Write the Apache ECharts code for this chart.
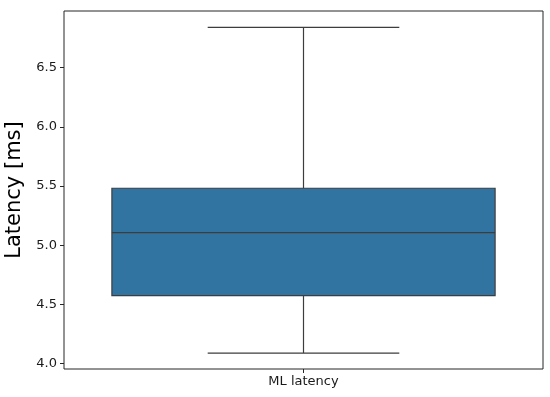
<!DOCTYPE html>
<html>
<head>
<meta charset="utf-8">
<script src="https://cdn.jsdelivr.net/npm/echarts@6/dist/echarts.min.js"></script>
<style>
  html, body { margin: 0; padding: 0; background: #fff; }
  #main { width: 550px; height: 397px; }
</style>
</head>
<body>
<div id="main"></div>
<script>
// 数据
const categories = ['ML latency'];
// [下须, Q1, 中位数, Q3, 上须]
const boxValues = [[4.088, 4.574, 5.106, 5.481, 6.841]];
const yTicks = [4.0, 4.5, 5.0, 5.5, 6.0, 6.5];

const chart = echarts.init(document.getElementById('main'), null, { renderer: 'canvas' });

const lineColor = '#3d3d3d';
const boxColor = '#3274a1';

const option = {
  animation: false,
  grid: {
    left: 64, right: 7, top: 11, bottom: 28,
    outerBoundsMode: 'none',
    show: true, borderColor: '#262626', borderWidth: 1, backgroundColor: 'transparent'
  },
  xAxis: {
    type: 'category',
    data: categories,
    axisLine: { show: false },
    axisTick: { show: true, alignWithLabel: true, length: 4, lineStyle: { color: '#262626' } },
    axisLabel: { color: '#1a1a1a', fontSize: 13, fontFamily: 'DejaVu Sans', margin: 6 },
    splitLine: { show: false }
  },
  yAxis: {
    type: 'value',
    min: 3.953,
    max: 6.979,
    name: 'Latency [ms]',
    nameLocation: 'middle',
    nameGap: 38,
    nameTextStyle: { fontSize: 21, fontFamily: 'DejaVu Sans', color: '#000' },
    axisLine: { show: false },
    axisTick: { show: true, length: 4, customValues: yTicks, lineStyle: { color: '#262626' } },
    axisLabel: {
      color: '#1a1a1a', fontSize: 13, fontFamily: 'DejaVu Sans', margin: 7,
      customValues: yTicks,
      formatter: v => v.toFixed(1)
    },
    splitLine: { show: false }
  },
  series: [{
    type: 'custom',
    data: boxValues.map((d, i) => [i].concat(d)),
    encode: { x: 0, y: [1, 2, 3, 4, 5] },
    renderItem: function (params, api) {
      const idx = api.value(0);
      const bandW = api.size([1, 0])[0];
      const half = bandW * 0.8 / 2;
      const capHalf = half / 2;
      const pLo = api.coord([idx, api.value(1)]);
      const pQ1 = api.coord([idx, api.value(2)]);
      const pMed = api.coord([idx, api.value(3)]);
      const pQ3 = api.coord([idx, api.value(4)]);
      const pHi = api.coord([idx, api.value(5)]);
      const cx = pMed[0];
      const ls = { stroke: lineColor, lineWidth: 1.2 };
      return {
        type: 'group',
        children: [
          { type: 'line', shape: { x1: cx, y1: pQ3[1], x2: cx, y2: pHi[1] }, style: ls },
          { type: 'line', shape: { x1: cx, y1: pQ1[1], x2: cx, y2: pLo[1] }, style: ls },
          { type: 'line', shape: { x1: cx - capHalf, y1: pHi[1], x2: cx + capHalf, y2: pHi[1] }, style: ls },
          { type: 'line', shape: { x1: cx - capHalf, y1: pLo[1], x2: cx + capHalf, y2: pLo[1] }, style: ls },
          {
            type: 'rect',
            shape: { x: cx - half, y: pQ3[1], width: half * 2, height: pQ1[1] - pQ3[1] },
            style: { fill: boxColor, stroke: lineColor, lineWidth: 1.2 }
          },
          { type: 'line', shape: { x1: cx - half, y1: pMed[1], x2: cx + half, y2: pMed[1] }, style: ls }
        ]
      };
    }
  }]
};

chart.setOption(option);
</script>
</body>
</html>
